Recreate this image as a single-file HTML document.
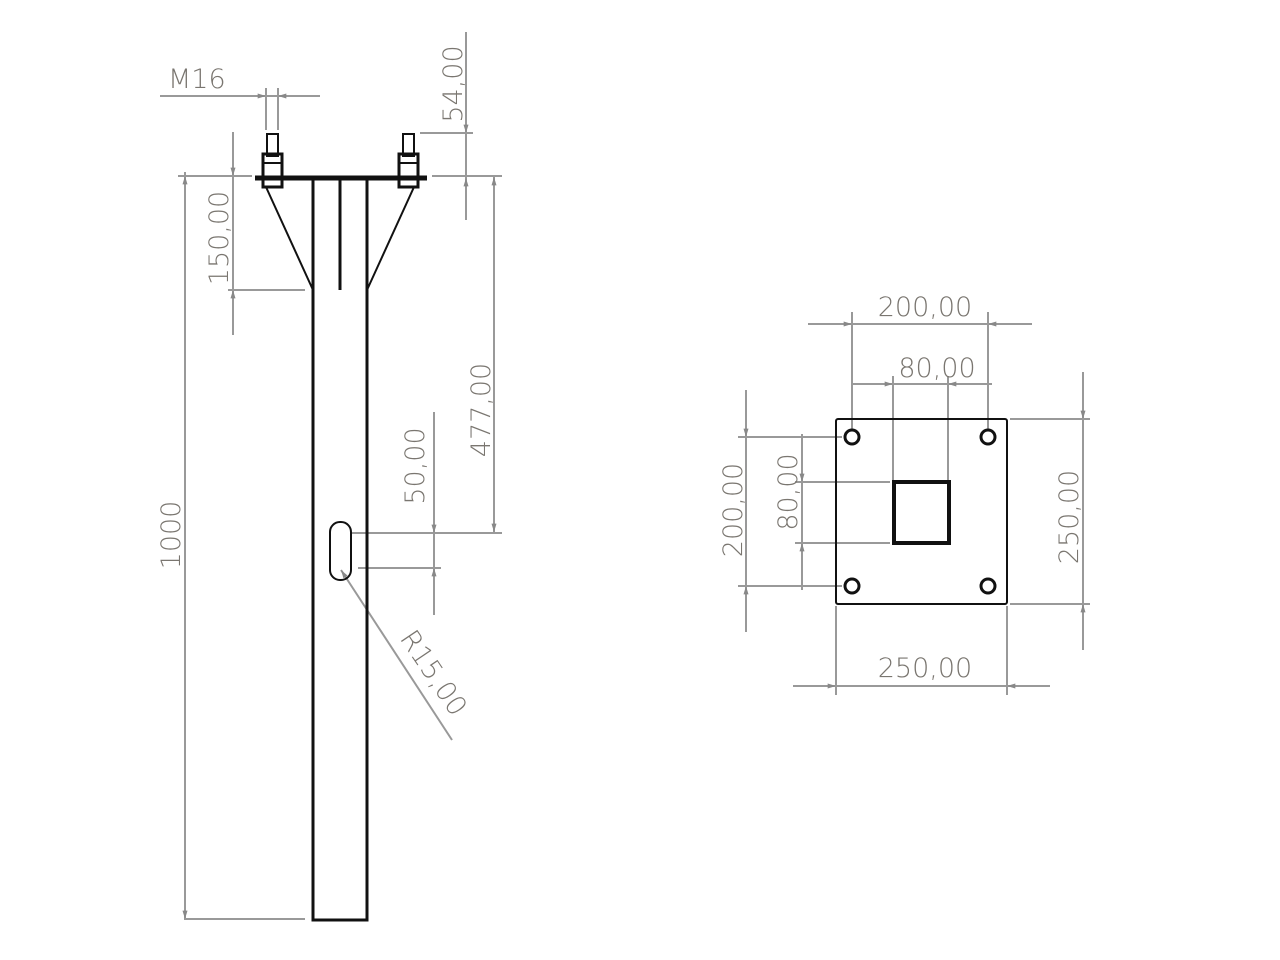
<!DOCTYPE html>
<html><head><meta charset="utf-8"><style>
html,body{margin:0;padding:0;background:#fff;}
svg{display:block}
text{font-family:"DejaVu Sans","Liberation Sans",sans-serif;fill:#7a7670;font-size:27px;font-weight:300;}
</style></head><body>
<svg width="1280" height="960" viewBox="0 0 1280 960" xmlns="http://www.w3.org/2000/svg">
<defs>
<marker id="a" viewBox="0 0 10 6" refX="10" refY="3" markerWidth="12" markerHeight="5" orient="auto-start-reverse" markerUnits="userSpaceOnUse"><path d="M0,0 L10,3 L0,6z" fill="#888"/></marker>
</defs>
<g stroke="#999" stroke-width="2" fill="none">
<line x1="160" y1="96" x2="320" y2="96"/>
<line x1="240" y1="96" x2="266" y2="96" marker-end="url(#a)"/>
<line x1="303" y1="96" x2="278" y2="96" marker-end="url(#a)"/>
<line x1="266" y1="88" x2="266" y2="130"/><line x1="278" y1="88" x2="278" y2="130"/>
<line x1="466" y1="32" x2="466" y2="220"/>
<line x1="466" y1="105" x2="466" y2="133" marker-end="url(#a)"/>
<line x1="466" y1="200" x2="466" y2="178" marker-end="url(#a)"/>
<line x1="420" y1="133" x2="473" y2="133"/>
<line x1="432" y1="176" x2="502" y2="176"/>
<line x1="233" y1="132" x2="233" y2="335"/>
<line x1="233" y1="155" x2="233" y2="176" marker-end="url(#a)"/>
<line x1="233" y1="310" x2="233" y2="290" marker-end="url(#a)"/>
<line x1="228" y1="176" x2="252" y2="176"/>
<line x1="228" y1="290" x2="305" y2="290"/>
<line x1="185" y1="172" x2="185" y2="920"/>
<line x1="185" y1="200" x2="185" y2="176" marker-end="url(#a)"/>
<line x1="185" y1="895" x2="185" y2="919" marker-end="url(#a)"/>
<line x1="178" y1="176" x2="245" y2="176"/>
<line x1="185" y1="919" x2="305" y2="919"/>
<line x1="494" y1="176" x2="494" y2="533"/>
<line x1="494" y1="200" x2="494" y2="177" marker-end="url(#a)"/>
<line x1="494" y1="510" x2="494" y2="532" marker-end="url(#a)"/>
<line x1="470" y1="176" x2="502" y2="176"/>
<line x1="350" y1="533" x2="502" y2="533"/>
<line x1="434" y1="412" x2="434" y2="615"/>
<line x1="434" y1="510" x2="434" y2="533" marker-end="url(#a)"/>
<line x1="434" y1="595" x2="434" y2="568" marker-end="url(#a)"/>
<line x1="358" y1="568" x2="441" y2="568"/>
<line x1="452" y1="740" x2="341" y2="570" marker-end="url(#a)"/>
<line x1="808" y1="324" x2="1032" y2="324"/>
<line x1="830" y1="324" x2="852" y2="324" marker-end="url(#a)"/>
<line x1="1010" y1="324" x2="988" y2="324" marker-end="url(#a)"/>
<line x1="852" y1="312" x2="852" y2="430"/><line x1="988" y1="312" x2="988" y2="430"/>
<line x1="852" y1="384" x2="992" y2="384"/>
<line x1="870" y1="384" x2="893" y2="384" marker-end="url(#a)"/>
<line x1="972" y1="384" x2="948" y2="384" marker-end="url(#a)"/>
<line x1="893" y1="376" x2="893" y2="482"/><line x1="948" y1="376" x2="948" y2="482"/>
<line x1="793" y1="686" x2="1050" y2="686"/>
<line x1="812" y1="686" x2="836" y2="686" marker-end="url(#a)"/>
<line x1="1032" y1="686" x2="1007" y2="686" marker-end="url(#a)"/>
<line x1="836" y1="606" x2="836" y2="695"/><line x1="1007" y1="606" x2="1007" y2="695"/>
<line x1="746" y1="390" x2="746" y2="632"/>
<line x1="746" y1="412" x2="746" y2="437" marker-end="url(#a)"/>
<line x1="746" y1="612" x2="746" y2="586" marker-end="url(#a)"/>
<line x1="738" y1="437" x2="842" y2="437"/><line x1="738" y1="586" x2="842" y2="586"/>
<line x1="802" y1="434" x2="802" y2="590"/>
<line x1="802" y1="460" x2="802" y2="482" marker-end="url(#a)"/>
<line x1="802" y1="565" x2="802" y2="543" marker-end="url(#a)"/>
<line x1="795" y1="482" x2="890" y2="482"/><line x1="795" y1="543" x2="890" y2="543"/>
<line x1="1083" y1="372" x2="1083" y2="650"/>
<line x1="1083" y1="395" x2="1083" y2="419" marker-end="url(#a)"/>
<line x1="1083" y1="628" x2="1083" y2="604" marker-end="url(#a)"/>
<line x1="1010" y1="419" x2="1090" y2="419"/><line x1="1010" y1="604" x2="1090" y2="604"/>
</g>
<g stroke="#111" fill="none">
<rect x="313" y="178" width="54" height="742" stroke-width="3"/>
<line x1="255" y1="178" x2="427" y2="178" stroke-width="5"/>
<line x1="340" y1="180" x2="340" y2="290" stroke-width="3"/>
<line x1="266" y1="187" x2="313" y2="290" stroke-width="2"/>
<line x1="414" y1="187" x2="367" y2="290" stroke-width="2"/>
<rect x="267" y="134" width="11" height="22" stroke-width="2"/>
<rect x="263" y="154" width="19" height="33" stroke-width="3"/>
<line x1="263" y1="163" x2="282" y2="163" stroke-width="2"/>
<rect x="403" y="134" width="11" height="22" stroke-width="2"/>
<rect x="399" y="154" width="19" height="33" stroke-width="3"/>
<line x1="399" y1="163" x2="418" y2="163" stroke-width="2"/>
<rect x="330" y="522" width="21" height="58" rx="10" stroke-width="2"/>
<rect x="836" y="419" width="171" height="185" rx="2" stroke-width="2"/>
<rect x="894" y="482" width="55" height="61" stroke-width="4"/>
<circle cx="852" cy="437" r="7" stroke-width="3"/>
<circle cx="988" cy="437" r="7" stroke-width="3"/>
<circle cx="852" cy="586" r="7" stroke-width="3"/>
<circle cx="988" cy="586" r="7" stroke-width="3"/>
</g>
<text x="168" y="88">M16</text>
<text transform="translate(462,84) rotate(-90)" text-anchor="middle">54,00</text>
<text transform="translate(228,238) rotate(-90)" text-anchor="middle">150,00</text>
<text transform="translate(180,535) rotate(-90)" text-anchor="middle">1000</text>
<text transform="translate(490,410) rotate(-90)" text-anchor="middle">477,00</text>
<text transform="translate(424,466) rotate(-90)" text-anchor="middle">50,00</text>
<text transform="translate(426,678) rotate(56)" text-anchor="middle">R15,00</text>
<text x="925" y="316" text-anchor="middle">200,00</text>
<text x="937" y="377" text-anchor="middle">80,00</text>
<text x="925" y="677" text-anchor="middle">250,00</text>
<text transform="translate(742,510) rotate(-90)" text-anchor="middle">200,00</text>
<text transform="translate(797,492) rotate(-90)" text-anchor="middle">80,00</text>
<text transform="translate(1078,517) rotate(-90)" text-anchor="middle">250,00</text>
</svg>
</body></html>
